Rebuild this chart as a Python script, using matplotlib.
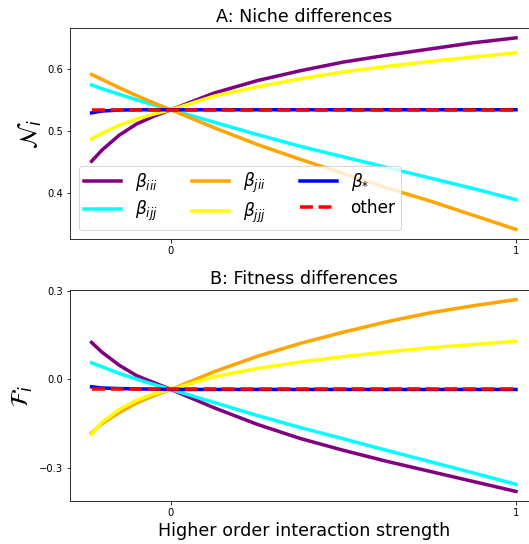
import matplotlib
matplotlib.use("Agg")
import matplotlib.pyplot as plt

# x positions (higher order interaction strength) at which values were read
x = [-0.23, -0.2, -0.15, -0.1, -0.05, 0.0, 0.125, 0.25, 0.375, 0.5, 0.625, 0.75, 0.875, 1.0]

# Panel A: niche differences
niche_iii = [0.452, 0.470, 0.494, 0.512, 0.5245, 0.535, 0.562, 0.582, 0.598, 0.612, 0.623, 0.633, 0.643, 0.651]
niche_ijj = [0.575, 0.569, 0.560, 0.551, 0.543, 0.535, 0.515, 0.495, 0.476, 0.459, 0.442, 0.425, 0.408, 0.390]
niche_jii = [0.592, 0.584, 0.5705, 0.558, 0.546, 0.535, 0.506, 0.479, 0.455, 0.432, 0.409, 0.388, 0.365, 0.342]
niche_jjj = [0.488, 0.497, 0.510, 0.520, 0.528, 0.535, 0.557, 0.572, 0.585, 0.596, 0.605, 0.613, 0.620, 0.627]
niche_star = [0.530, 0.533, 0.5345, 0.535, 0.535, 0.535, 0.535, 0.535, 0.535, 0.535, 0.535, 0.535, 0.535, 0.535]
niche_other = [0.535, 0.535, 0.535, 0.535, 0.535, 0.535, 0.535, 0.535, 0.535, 0.535, 0.535, 0.535, 0.535, 0.535]

# Panel B: fitness differences
fit_iii = [0.125, 0.092, 0.048, 0.013, -0.0105, -0.034, -0.096, -0.152, -0.200, -0.240, -0.277, -0.311, -0.345, -0.379]
fit_ijj = [0.056, 0.043, 0.020, 0.001, -0.017, -0.034, -0.078, -0.122, -0.163, -0.201, -0.240, -0.278, -0.316, -0.355]
fit_jii = [-0.181, -0.150, -0.112, -0.080, -0.055, -0.034, 0.026, 0.078, 0.122, 0.160, 0.195, 0.225, 0.249, 0.270]
fit_jjj = [-0.186, -0.145, -0.102, -0.071, -0.049, -0.034, 0.009, 0.037, 0.059, 0.077, 0.093, 0.107, 0.118, 0.129]
fit_star = [-0.025, -0.029, -0.031, -0.032, -0.033, -0.034, -0.034, -0.034, -0.034, -0.034, -0.034, -0.034, -0.034, -0.034]
fit_other = [-0.034, -0.034, -0.034, -0.034, -0.034, -0.034, -0.034, -0.034, -0.034, -0.034, -0.034, -0.034, -0.034, -0.034]

labels = [r"$\beta_{iii}$", r"$\beta_{ijj}$", r"$\beta_{jii}$", r"$\beta_{jjj}$", r"$\beta_{*}$", "other"]
colors = ["purple", "cyan", "orange", "yellow", "blue", "red"]
styles = ["-", "-", "-", "-", "-", "--"]

xticks = [0, 1]
yticks_A = [0.4, 0.5, 0.6]
yticks_B = [-0.3, 0.0, 0.3]

DPI = 72
fig = plt.figure(figsize=(529 / DPI, 544 / DPI), dpi=DPI)
axA = fig.add_axes([0.1331, 0.5607, 0.8824, 0.3873])
axB = fig.add_axes([0.1331, 0.0790, 0.8824, 0.3879])

lw = 3.5
for ax, series in [(axA, [niche_iii, niche_ijj, niche_jii, niche_jjj, niche_star, niche_other]),
                   (axB, [fit_iii, fit_ijj, fit_jii, fit_jjj, fit_star, fit_other])]:
    for s, lab, c, ls in zip(series, labels, colors, styles):
        ax.plot(x, s, ls, color=c, lw=lw, label=lab)
    ax.set_xticks(xticks)
    ax.tick_params(labelsize=10)

axA.set_yticks(yticks_A)
axB.set_yticks(yticks_B)
axA.set_title("A: Niche differences", fontsize=17.5)
axB.set_title("B: Fitness differences", fontsize=17.5)
axA.set_ylabel(r"$\mathcal{N}_i$", fontsize=24)
axB.set_ylabel(r"$\mathcal{F}_i$", fontsize=24)
axB.set_xlabel("Higher order interaction strength", fontsize=17.5)
axA.legend(loc="lower left", ncol=3, fontsize=17, handlelength=2.2,
           labelspacing=0.35, borderpad=0.3)

fig.savefig("out.png", dpi=DPI)
